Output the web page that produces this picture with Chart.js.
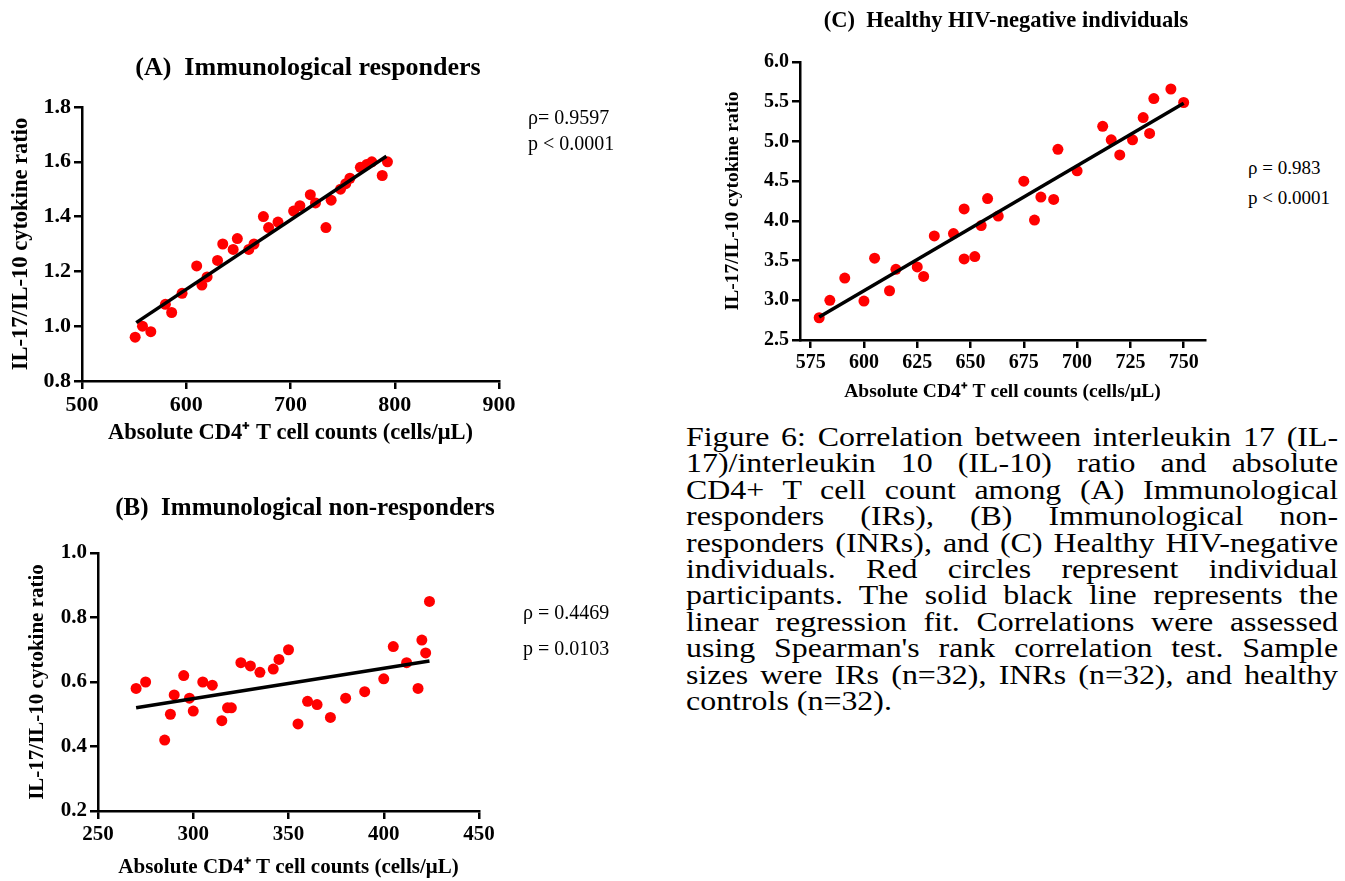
<!DOCTYPE html>
<html>
<head>
<meta charset="utf-8">
<title>Figure 6 - IL-17/IL-10 ratio vs CD4 count</title>
<script src="https://cdn.jsdelivr.net/npm/chart.js@4.4.1/dist/chart.umd.min.js"></script>
<style>
  body { margin: 0; background: #fff; width: 1345px; height: 881px; position: relative; overflow: hidden;
         font-family: "Liberation Serif", "Times New Roman", serif; color: #000; }
  canvas { position: absolute; }
  .title { position: absolute; transform: translate(-50%, -50%); font-weight: bold; white-space: pre; }
  .stat { position: absolute; font-size: 20px; white-space: nowrap; }
  /* caption glyphs in the source are wider than Times, so stretch it */
  #caption { position: absolute; left: 686px; top: 424px; width: 572px; font-size: 28px; line-height: 26.4px;
             transform: scaleX(1.14); transform-origin: left top; }
  #caption div { text-align: justify; text-align-last: justify; white-space: nowrap; }
  #caption div.last { text-align-last: left; }
</style>
</head>
<body>

<canvas id="chartA" width="540" height="400" style="left:0px; top:60px;"></canvas>
<canvas id="chartB" width="530" height="361" style="left:0px; top:520px;"></canvas>
<canvas id="chartC" width="550" height="380" style="left:690px; top:30px;"></canvas>

<div class="title" style="left:308px; top:67px; font-size:26px;">(A)  Immunological responders</div>
<div class="title" style="left:305px; top:507px; font-size:25px;">(B)  Immunological non-responders</div>
<div class="title" style="left:1006px; top:20px; font-size:22.5px;">(C)  Healthy HIV-negative individuals</div>

<div class="stat" style="left:528px; top:104px; line-height:26px;">ρ= 0.9597<br>p &lt; 0.0001</div>
<div class="stat" style="left:523px; top:594px; line-height:36px;">ρ = 0.4469<br>p = 0.0103</div>
<div class="stat" style="left:1248px; top:153px; line-height:30px; font-size:19px;">ρ = 0.983<br>p &lt; 0.0001</div>

<div id="caption">
  <div>Figure 6: Correlation between interleukin 17 (IL-</div>
  <div>17)/interleukin 10 (IL-10) ratio and absolute</div>
  <div>CD4+ T cell count among (A) Immunological</div>
  <div>responders (IRs), (B) Immunological non-</div>
  <div>responders (INRs), and (C) Healthy HIV-negative</div>
  <div>individuals. Red circles represent individual</div>
  <div>participants. The solid black line represents the</div>
  <div>linear regression fit. Correlations were assessed</div>
  <div>using Spearman's rank correlation test. Sample</div>
  <div>sizes were IRs (n=32), INRs (n=32), and healthy</div>
  <div class="last">controls (n=32).</div>
</div>

<script>
// (A) Immunological responders
const xA = [551, 558, 566, 580, 586, 596, 610, 615, 620, 630, 635, 645, 649, 660, 665, 674,
            679, 688, 703, 709, 719, 724, 734, 739, 748, 753, 757, 767, 773, 778, 788, 793];
const yA = [0.96, 1.00, 0.98, 1.08, 1.05, 1.12, 1.22, 1.15, 1.18, 1.24, 1.30, 1.28, 1.32, 1.28, 1.30, 1.40,
            1.36, 1.38, 1.42, 1.44, 1.48, 1.45, 1.36, 1.46, 1.50, 1.52, 1.54, 1.58, 1.59, 1.60, 1.55, 1.60];
const fitXA = [552, 792];
const fitYA = [1.013, 1.62];
const xTicksA = [500, 600, 700, 800, 900];
const yTicksA = [0.8, 1.0, 1.2, 1.4, 1.6, 1.8];

// (B) Immunological non-responders
const xB = [270, 275, 285, 288, 290, 295, 298, 300, 305, 310, 315, 318, 320, 325, 330, 335,
            342, 345, 350, 355, 360, 365, 372, 380, 390, 400, 405, 412, 418, 420, 422, 424];
const yB = [0.58, 0.60, 0.42, 0.50, 0.56, 0.62, 0.55, 0.51, 0.60, 0.59, 0.48, 0.52, 0.52, 0.66, 0.65, 0.63,
            0.64, 0.67, 0.70, 0.47, 0.54, 0.53, 0.49, 0.55, 0.57, 0.61, 0.71, 0.66, 0.58, 0.73, 0.69, 0.85];
const fitXB = [270, 424];
const fitYB = [0.52, 0.665];
const xTicksB = [250, 300, 350, 400, 450];
const yTicksB = [0.2, 0.4, 0.6, 0.8, 1.0];

// (C) Healthy HIV-negative individuals
const xC = [579, 584, 591, 600, 605, 612, 615, 625, 628, 633, 642, 647, 647, 652, 655, 658,
            663, 675, 680, 683, 689, 691, 700, 712, 716, 720, 726, 731, 734, 736, 744, 750];
const yC = [2.78, 3.00, 3.28, 2.99, 3.53, 3.12, 3.39, 3.42, 3.30, 3.81, 3.84, 4.15, 3.52, 3.55, 3.94, 4.28,
            4.06, 4.50, 4.01, 4.30, 4.27, 4.90, 4.63, 5.19, 5.02, 4.83, 5.02, 5.30, 5.10, 5.54, 5.66, 5.49];
const fitXC = [579, 750];
const fitYC = [2.79, 5.48];
const xTicksC = [575, 600, 625, 650, 675, 700, 725, 750];
const yTicksC = [2.5, 3.0, 3.5, 4.0, 4.5, 5.0, 5.5, 6.0];

const FONT = "'Liberation Serif', 'Times New Roman', serif";
const X_TITLE = "Absolute CD4\u207A T cell counts (cells/\u03BCL)";
const Y_TITLE = "IL-17/IL-10 cytokine ratio";

function fixedSize(size) {
  return function (scale) {
    if (scale.isHorizontal()) scale.height = size;
    else scale.width = size;
    scale.paddingLeft = 0;
    scale.paddingRight = 0;
    scale.paddingTop = 0;
    scale.paddingBottom = 0;
  };
}

function axis(o) {
  return {
    type: "linear",
    min: o.min,
    max: o.max,
    afterBuildTicks: (scale) => {
      scale.ticks = o.ticks.map((v) => ({ value: v }));
    },
    afterFit: fixedSize(o.size),
    border: { display: true, color: "#000", width: 2.5 },
    grid: { drawOnChartArea: false, drawTicks: true, tickLength: 8, color: "#000", lineWidth: 2.5 },
    ticks: {
      color: "#000",
      padding: 3,
      autoSkip: false,
      maxRotation: 0,
      font: { family: FONT, size: o.tickSize, weight: "bold" },
      callback: o.fmt,
    },
    title: {
      display: true,
      text: o.title,
      color: "#000",
      font: { family: FONT, size: o.titleSize, weight: "bold" },
      padding: o.titlePad,
    },
  };
}

function makeScatter(id, p) {
  const points = p.xs.map((x, i) => ({ x: x, y: p.ys[i] }));
  const fit = p.fitX.map((x, i) => ({ x: x, y: p.fitY[i] }));

  new Chart(document.getElementById(id), {
    type: "scatter",
    data: {
      datasets: [
        {
          data: fit,
          showLine: true,
          borderColor: "#000",
          borderWidth: 3.5,
          pointRadius: 0,
          clip: false,
        },
        {
          data: points,
          pointRadius: p.radius,
          pointBackgroundColor: "#ff0000",
          pointBorderWidth: 0,
          clip: false,
        },
      ],
    },
    options: {
      responsive: false,
      animation: false,
      devicePixelRatio: 1,
      layout: { padding: { left: 0, top: p.padTop, right: p.padRight, bottom: 0 } },
      plugins: { legend: { display: false }, tooltip: { enabled: false } },
      scales: {
        x: axis({
          min: p.xMin, max: p.xMax, ticks: p.xTicks, size: p.xHeight,
          tickSize: p.tickSize, fmt: (v) => String(v),
          title: X_TITLE, titleSize: p.xTitleSize, titlePad: { top: 0, bottom: p.xTitlePad },
        }),
        y: axis({
          min: p.yMin, max: p.yMax, ticks: p.yTicks, size: p.yWidth,
          tickSize: p.tickSize, fmt: (v) => Number(v).toFixed(1),
          title: Y_TITLE, titleSize: p.yTitleSize, titlePad: { top: p.yTitlePad, bottom: 0 },
        }),
      },
    },
  });
}

makeScatter("chartA", {
  xs: xA, ys: yA, fitX: fitXA, fitY: fitYA,
  xMin: 500, xMax: 900, yMin: 0.8, yMax: 1.8, xTicks: xTicksA, yTicks: yTicksA,
  padTop: 47, padRight: 41, yWidth: 82, xHeight: 79,
  tickSize: 22, xTitleSize: 22.5, yTitleSize: 22.5, xTitlePad: 13.5, yTitlePad: 8, radius: 5.5,
});

makeScatter("chartB", {
  xs: xB, ys: yB, fitX: fitXB, fitY: fitYB,
  xMin: 250, xMax: 450, yMin: 0.2, yMax: 1.0, xTicks: xTicksB, yTicks: yTicksB,
  padTop: 33, padRight: 51, yWidth: 98, xHeight: 70,
  tickSize: 21, xTitleSize: 21, yTitleSize: 21, xTitlePad: 0.4, yTitlePad: 25.4, radius: 5.5,
});

makeScatter("chartC", {
  xs: xC, ys: yC, fitX: fitXC, fitY: fitYC,
  xMin: 570, xMax: 760, yMin: 2.5, yMax: 6.0, xTicks: xTicksC, yTicks: yTicksC,
  padTop: 32, padRight: 35, yWidth: 110, xHeight: 70,
  tickSize: 20, xTitleSize: 19.5, yTitleSize: 19.5, xTitlePad: 6.3, yTitlePad: 31.3, radius: 5.5,
});
</script>
</body>
</html>
